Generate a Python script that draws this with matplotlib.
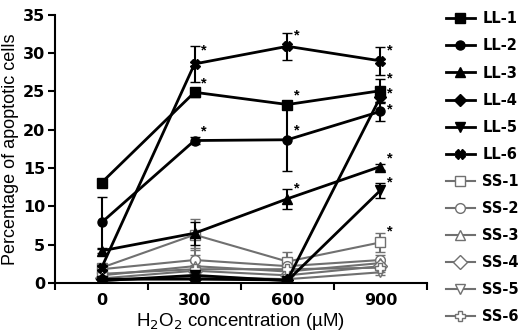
import numpy as np
import matplotlib
matplotlib.use("Agg")
from matplotlib import pyplot as plt
from matplotlib.lines import Line2D

# H2O2 doses (uM)
doses = [0, 300, 600, 900]

# percentage of apoptotic cells
ll1 = [13.1, 24.9, 23.3, 25.1]
ll2 = [7.9, 18.6, 18.7, 22.4]
ll3 = [4.2, 6.5, 11.0, 15.2]
ll4 = [0.5, 0.5, 0.4, 24.3]
ll5 = [0.3, 1.0, 0.3, 12.1]
ll6 = [2.0, 28.6, 30.9, 29.0]
ss1 = [2.0, 6.3, 2.8, 5.3]
ss2 = [1.8, 3.0, 2.2, 3.0]
ss3 = [1.0, 2.2, 1.5, 2.6]
ss4 = [0.6, 1.6, 1.0, 2.2]
ss5 = [0.3, 0.8, 0.5, 1.4]
ss6 = [1.2, 1.8, 1.8, 2.0]

# standard errors
ll1_err = [0.4, 0.6, 0.5, 1.5]
ll2_err = [3.3, 0.5, 4.1, 1.2]
ll3_err = [0.3, 1.5, 1.3, 0.4]
ll4_err = [0.2, 0.3, 0.2, 0.8]
ll5_err = [0.2, 0.4, 0.2, 1.0]
ll6_err = [0.3, 2.3, 1.8, 1.8]
ss1_err = [0.3, 2.0, 1.2, 1.2]
ss2_err = [0.3, 0.6, 0.5, 0.6]
ss3_err = [0.2, 0.5, 0.4, 0.5]
ss4_err = [0.2, 0.4, 0.3, 0.4]
ss5_err = [0.2, 0.3, 0.2, 0.3]
ss6_err = [0.3, 2.8, 0.6, 0.5]

labels = ["LL-1", "LL-2", "LL-3", "LL-4", "LL-5", "LL-6",
          "SS-1", "SS-2", "SS-3", "SS-4", "SS-5", "SS-6"]
markers = ["s", "o", "^", "D", "v", "X", "s", "o", "^", "D", "v", "P"]

# significance marks: (series index, dose index, vertical shift)
stars = [(5, 1, 1.8), (5, 2, 1.4), (5, 3, 1.3), (0, 1, 1.2), (0, 2, 1.2),
         (0, 3, 1.6), (1, 1, 1.2), (1, 2, 1.2), (1, 3, 0.3), (2, 2, 1.3),
         (2, 3, 1.1), (3, 3, 0.4), (4, 3, 1.0), (6, 3, 1.4)]

plt.rcParams['font.family'] = ['Liberation Sans', 'DejaVu Sans']

series = [ll1, ll2, ll3, ll4, ll5, ll6, ss1, ss2, ss3, ss4, ss5, ss6]
errors = [ll1_err, ll2_err, ll3_err, ll4_err, ll5_err, ll6_err,
          ss1_err, ss2_err, ss3_err, ss4_err, ss5_err, ss6_err]

fig = plt.figure(figsize=(5.20, 3.31), dpi=100)
ax = fig.add_axes([0.106, 0.145, 0.715, 0.81])

handles = []
for i, (y, e) in enumerate(zip(series, errors)):
    if i < 6:
        color, fc, lw, ms = "black", "black", 2.0, 6.5
    else:
        color, fc, lw, ms = "#707070", "white", 1.5, 7
    ax.errorbar(doses, y, yerr=e, color=color, lw=lw, marker=markers[i],
                ms=ms, mfc=fc, mec=color, mew=1.0, capsize=3.5,
                elinewidth=1.5, capthick=1.5, zorder=3 if i < 6 else 2)
    handles.append(Line2D([], [], color=color, lw=lw, marker=markers[i],
                          ms=ms, mfc=fc, mec=color, mew=1.0,
                          label=labels[i]))

for si, di, dy in stars:
    ax.text(doses[di] + 30, series[si][di] + dy, "*", fontsize=10.5,
            fontweight="bold", ha="center", va="center")

ax.set_xlim(-150, 1050)
ax.set_ylim(0, 35)
ax.set_yticks(np.arange(0, 36, 5))
ax.set_xticks(doses)
ax.set_xticks([-150, 150, 450, 750, 1050], minor=True)
ax.tick_params(axis="x", which="major", length=0, pad=7)
ax.tick_params(axis="x", which="minor", length=5, width=1.5)
ax.tick_params(axis="y", length=5, width=1.5, pad=2)
for lab in ax.get_xticklabels() + ax.get_yticklabels():
    lab.set_fontfamily("DejaVu Sans")
    lab.set_fontweight("bold")
    lab.set_fontsize(11.5)
ax.spines["top"].set_visible(False)
ax.spines["right"].set_visible(False)
ax.spines["left"].set_linewidth(1.5)
ax.spines["bottom"].set_linewidth(1.5)

ax.set_ylabel("Percentage of apoptotic cells", fontsize=13, labelpad=3)
ax.set_xlabel("H$_2$O$_2$ concentration (\u00b5M)", fontsize=13.5, labelpad=2)

ax.legend(handles=handles, loc="upper left", bbox_to_anchor=(1.035, 1.035),
          frameon=False, prop={"family": "DejaVu Sans", "weight": "bold",
                               "size": 10.5},
          labelspacing=0.83, handlelength=2.0, handletextpad=0.5,
          borderaxespad=0)

fig.savefig("out.png", dpi=100)
